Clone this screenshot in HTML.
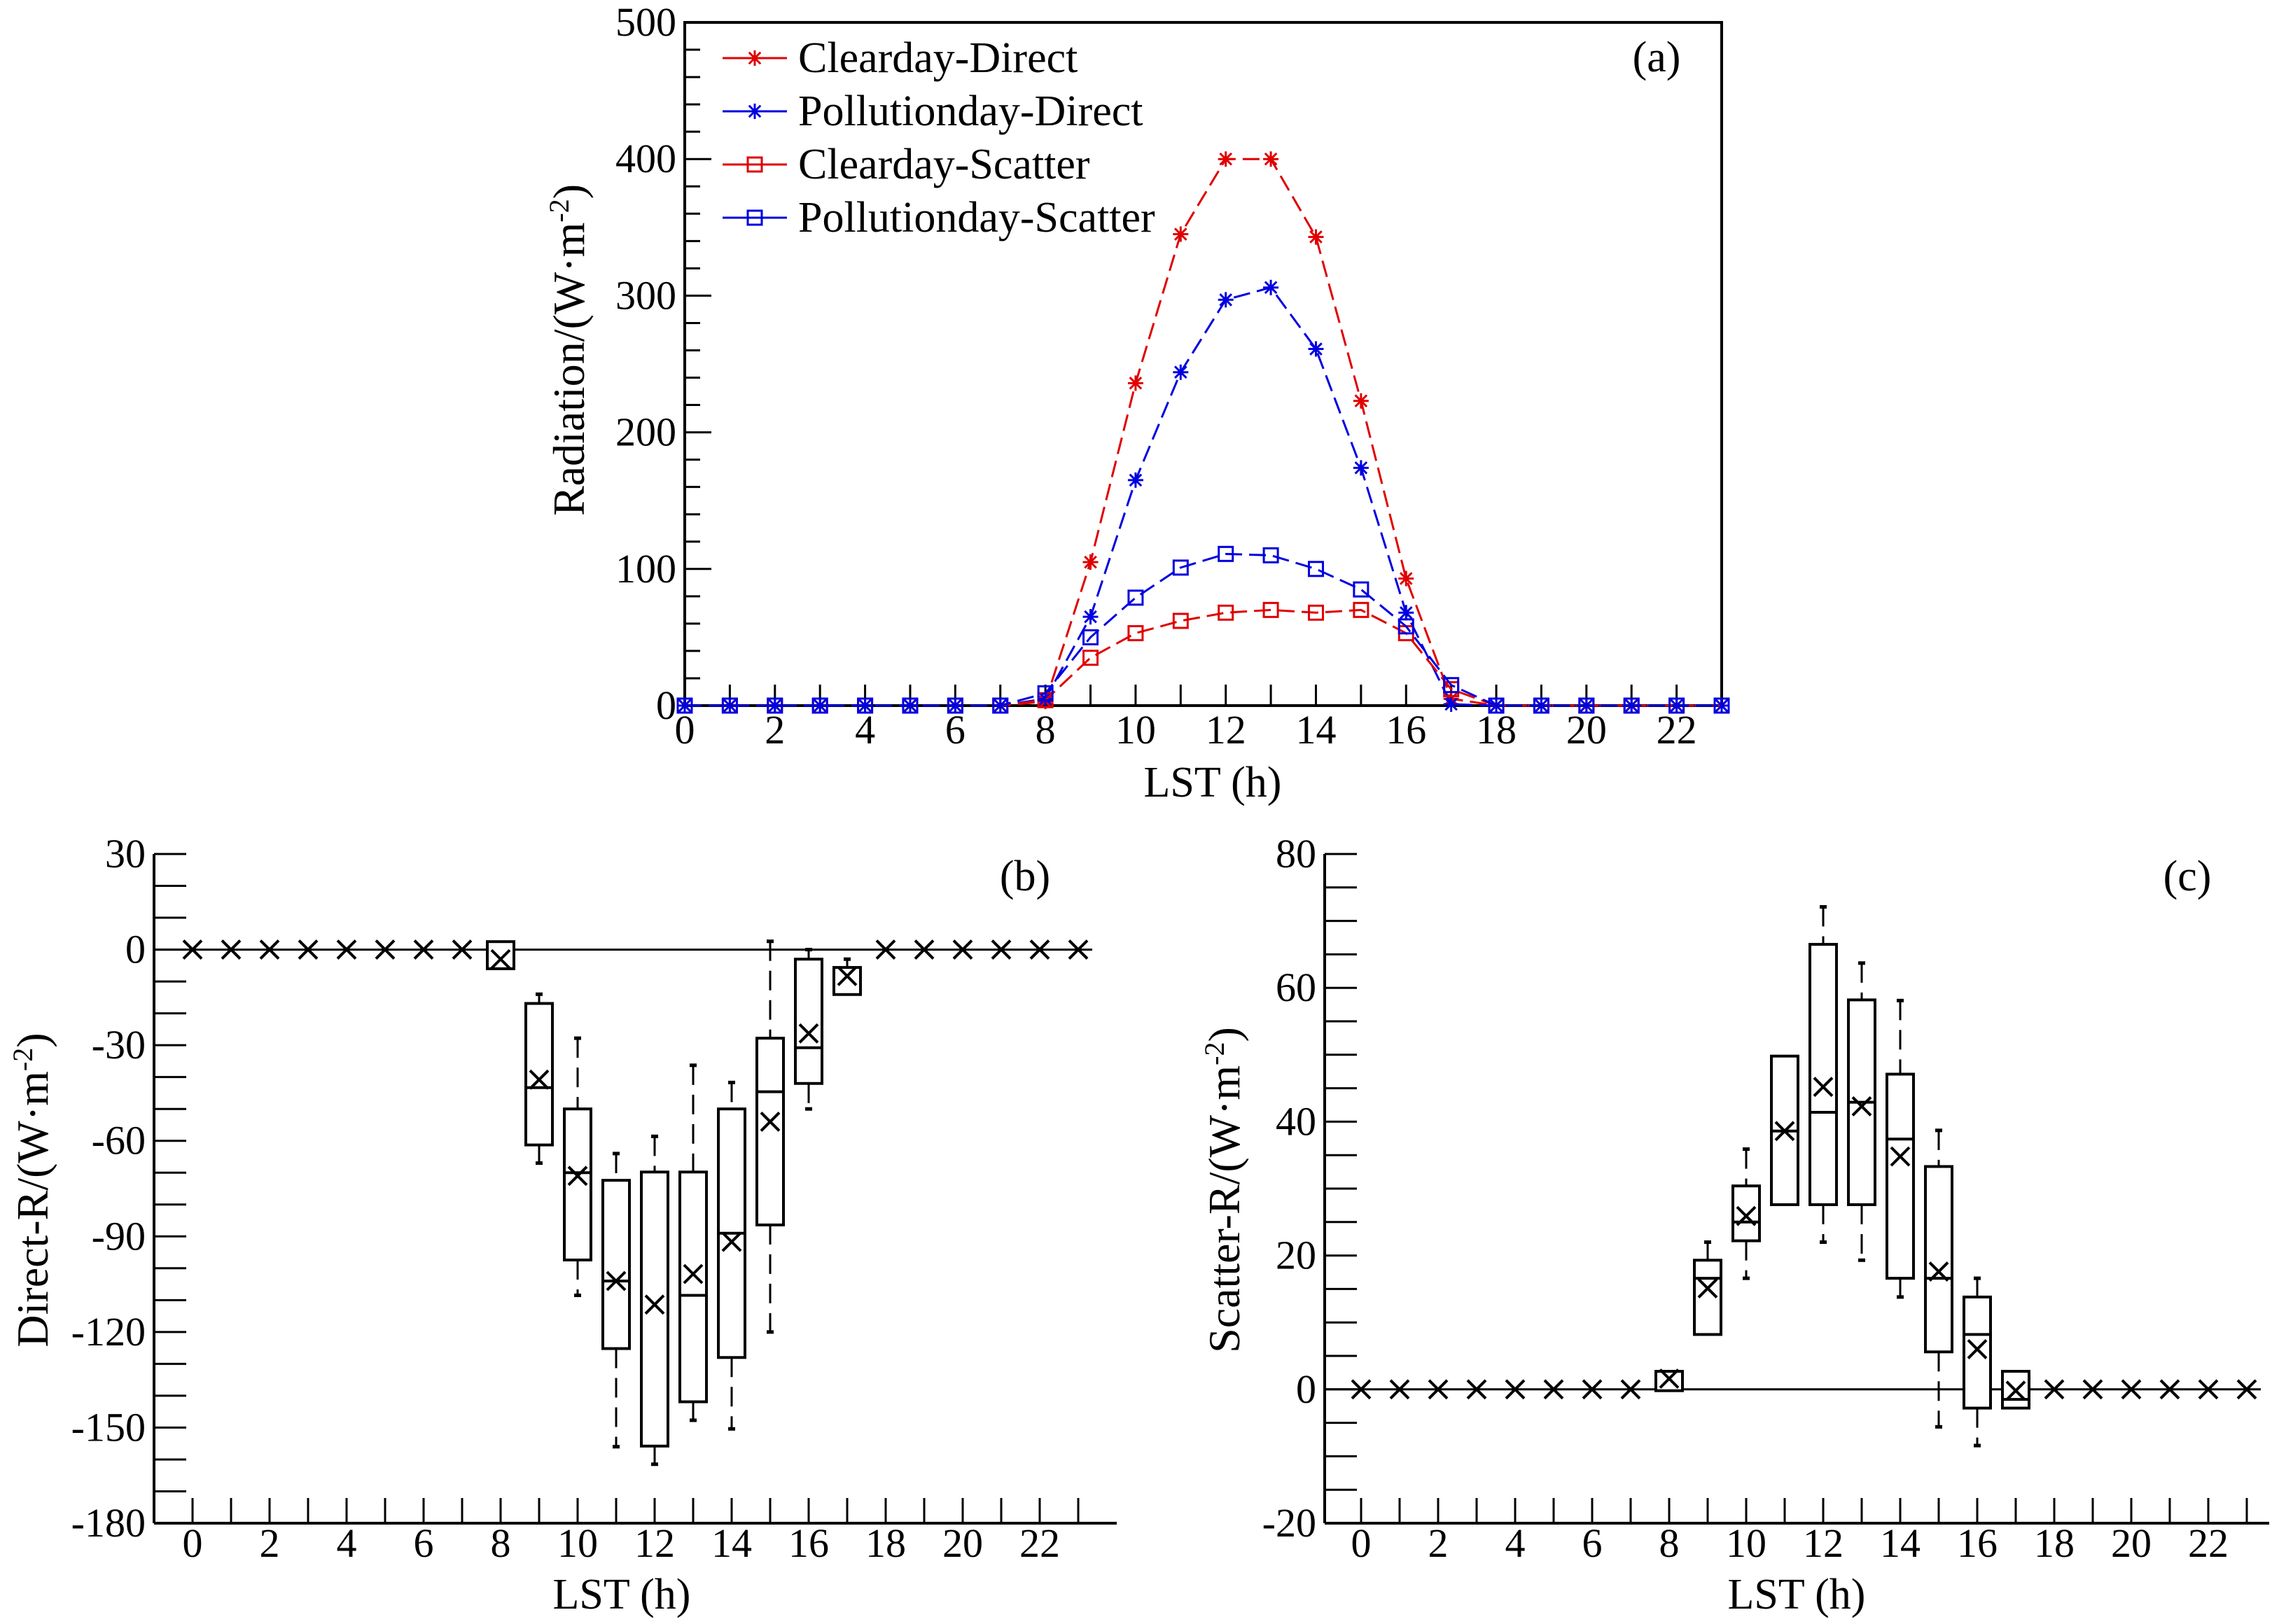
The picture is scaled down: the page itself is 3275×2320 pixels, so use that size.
<!DOCTYPE html>
<html><head><meta charset="utf-8"><style>
html,body{margin:0;padding:0;background:#fff;}
svg{display:block;font-family:"Liberation Serif","Times New Roman",serif;}
text{font-family:"Liberation Serif","Times New Roman",serif;}
</style></head><body>
<svg id="fig" width="3275" height="2320" viewBox="0 0 3275 2320" xmlns="http://www.w3.org/2000/svg" font-family="Liberation Serif, serif"></svg>
<script>
// ---------- Panel (a) data ----------
const hours = [0,1,2,3,4,5,6,7,8,9,10,11,12,13,14,15,16,17,18,19,20,21,22,23];
const clearDirect = [0,0,0,0,0,0,0,0,3,105,236,345,400,400,343,223,93,5,0,0,0,0,0,0];
const pollDirect  = [0,0,0,0,0,0,0,0,5,65,165,244,297,306,261,174,68,1,0,0,0,0,0,0];
const clearScatter= [0,0,0,0,0,0,0,0,4,35,53,62,68,70,68,70,53,12,0,0,0,0,0,0];
const pollScatter = [0,0,0,0,0,0,0,0,9,50,79,101,111,110,100,85,58,15,0,0,0,0,0,0];
const aTicks = [0,100,200,300,400,500];
const xTickLabels = [0,2,4,6,8,10,12,14,16,18,20,22];
// ---------- Panel (b) data ----------
const bHours = [8,9,10,11,12,13,14,15,16,17];
const bQ1   = [-6,-61.3,-97.4,-125.2,-155.8,-141.9,-128,-86.4,-42,-14.1];
const bQ3   = [2.5,-16.9,-50,-72.4,-69.8,-69.8,-50,-27.8,-3,-5.6];
const bMed  = [null,-43.3,-70,-104,null,-108.5,-89,-44.6,-30.8,null];
const bWLo  = [null,-67,-108.5,-156,-161.5,-147.7,-150.4,-120,-50,null];
const bWHi  = [null,-14,-27.8,-64,-58.6,-36.3,-41.7,2.6,0,-3];
const bMean = [-3,-40.8,-71,-104,-111.4,-101.8,-91.7,-54,-26.3,-8.3];
const bZeroHours = [0,1,2,3,4,5,6,7,18,19,20,21,22,23];
const bTicks = [30,0,-30,-60,-90,-120,-150,-180];
// ---------- Panel (c) data ----------
const cHours = [8,9,10,11,12,13,14,15,16,17];
const cQ1   = [-0.2,8.2,22.2,27.6,27.6,27.6,16.6,5.6,-2.8,-2.8];
const cQ3   = [2.7,19.3,30.4,49.8,66.5,58.2,47.1,33.3,13.8,2.7];
const cMed  = [null,16.6,25,38.6,41.4,42.9,37.4,16.6,8.2,-1.5];
const cWLo  = [null,null,16.6,null,22,19.3,13.8,-5.6,-8.4,null];
const cWHi  = [null,22,35.9,null,72.1,63.7,58.1,38.7,16.6,null];
const cMean = [1.6,15.1,25.9,38.6,45.2,42.3,34.8,17.6,6,-0.2];
const cZeroHours = [0,1,2,3,4,5,6,7,18,19,20,21,22,23];
const cTicks = [80,60,40,20,0,-20];

const NS="http://www.w3.org/2000/svg";
const FF='"Liberation Serif", "Times New Roman", serif';
const svg=document.getElementById('fig');
function mk(tag,attrs,parent){const e=document.createElementNS(NS,tag);for(const k in attrs)e.setAttribute(k,attrs[k]);(parent||svg).appendChild(e);return e;}
function txt(s,x,y,attrs,parent){const t=mk('text',Object.assign({x:x,y:y,'font-size':56,fill:'#000','font-family':FF},attrs),parent);t.textContent=s;return t;}

// ================= Panel (a) =================
const A={x0:978,x1:2459,y0:1008,y1:32};
const ax=h=>978+h*(2459-978)/23;
const ay=v=>1008-v*(1008-32)/500;
const ga=mk('g',{});


const frame=mk('rect',{x:A.x0,y:A.y1,width:A.x1-A.x0,height:A.y0-A.y1,fill:'none',stroke:'#000','stroke-width':4},ga);


for(let v=0;v<=500;v+=20){const major=v%100===0;mk('line',{x1:A.x0,x2:A.x0+(major?38:22),y1:ay(v),y2:ay(v),stroke:'#000','stroke-width':3},ga);}
aTicks.forEach(v=>{const t=txt(String(v),A.x0-12,ay(v)+19,{'text-anchor':'end','font-size':58},ga);});
hours.forEach(h=>mk('line',{x1:ax(h),x2:ax(h),y1:A.y0,y2:A.y0-30,stroke:'#000','stroke-width':3},ga));
xTickLabels.forEach(h=>{const t=txt(String(h),ax(h),1062,{'text-anchor':'middle','font-size':58},ga);});
let t=txt('LST (h)',1732,1138,{'text-anchor':'middle','font-size':62},ga);
t=mk('text',{x:0,y:0,'font-size':64,'font-family':FF,'text-anchor':'middle',transform:'translate(834,500) rotate(-90)'},ga);

t.innerHTML='Radiation/(W·m<tspan dy="-22" font-size="40">-2</tspan><tspan dy="22">)</tspan>';
t=txt('(a)',2366,102,{'text-anchor':'middle','font-size':62},ga);

function star(x,y,c,g){const r=11;mk('path',{d:`M${x-r} ${y}H${x+r}M${x} ${y-r}V${y+r}M${x-r*.75} ${y-r*.75}L${x+r*.75} ${y+r*.75}M${x-r*.75} ${y+r*.75}L${x+r*.75} ${y-r*.75}`,stroke:c,'stroke-width':3,fill:'none'},g);}
function sq(x,y,c,g){mk('rect',{x:x-10,y:y-10,width:20,height:20,fill:'none',stroke:c,'stroke-width':3},g);}
const series=[[clearDirect,'#e00000',star,'series-clearday-direct'],[pollDirect,'#0000e0',star,'series-pollutionday-direct'],[clearScatter,'#e00000',sq,'series-clearday-scatter'],[pollScatter,'#0000e0',sq,'series-pollutionday-scatter']];
series.forEach(([d,c,m,n])=>{
  const g=mk('g',{},ga);
  
  
  mk('polyline',{points:d.map((v,i)=>ax(hours[i])+','+ay(v)).join(' '),fill:'none',stroke:c,'stroke-width':3,'stroke-dasharray':'24 10'},g);
  d.forEach((v,i)=>m(ax(hours[i]),ay(v),c,g));
});
const legNames=['Clearday-Direct','Pollutionday-Direct','Clearday-Scatter','Pollutionday-Scatter'];
series.forEach(([d,c,m],i)=>{
  const y=83+i*76;
  const g=mk('g',{},ga);
  
  
  mk('line',{x1:1032,x2:1124,y1:y,y2:y,stroke:c,'stroke-width':3},g);
  m(1078,y,c,g);
  txt(legNames[i],1140,y+20,{'font-size':62},g);
});

// ================= Box panels =================
function boxPanel(o){
  const g=mk('g',{});
  
  
  const px=h=>o.h0+h*(o.h23-o.h0)/23;
  const py=v=>o.yb-(v-o.vmin)*(o.yb-o.yt)/(o.vmax-o.vmin);
  mk('line',{x1:o.xl,x2:o.xl,y1:o.yt,y2:o.yb,stroke:'#000','stroke-width':4},g);
  mk('line',{x1:o.xl,x2:o.xr,y1:o.yb,y2:o.yb,stroke:'#000','stroke-width':4},g);
  for(let v=o.vmin;v<=o.vmax+1e-6;v+=o.minor) mk('line',{x1:o.xl,x2:o.xl+46,y1:py(v),y2:py(v),stroke:'#000','stroke-width':3},g);
  o.ticks.forEach(v=>{const t=txt(String(v),o.xl-12,py(v)+19,{'text-anchor':'end','font-size':58},g);});
  for(let h=0;h<=23;h++) mk('line',{x1:px(h),x2:px(h),y1:o.yb,y2:o.yb-36,stroke:'#000','stroke-width':3},g);
  xTickLabels.forEach(h=>{const t=txt(String(h),px(h),2224,{'text-anchor':'middle','font-size':58},g);});
  let t=txt('LST (h)',o.lstX,2298,{'text-anchor':'middle','font-size':62},g);
  t=mk('text',{x:0,y:0,'font-size':64,'font-family':FF,'text-anchor':'middle',transform:`translate(${o.titleX},1700) rotate(-90)`},g);
  
  t.innerHTML=o.title+'/(W·m<tspan dy="-22" font-size="40">-2</tspan><tspan dy="22">)</tspan>';
  t=txt(o.label,o.labelX,1272,{'text-anchor':'middle','font-size':62},g);
  mk('line',{x1:o.xl,x2:px(o.zeroHours[o.zeroHours.length-1])+20,y1:py(0),y2:py(0),stroke:'#000','stroke-width':3},g);
  const cross=(x,y,gg)=>mk('path',{d:`M${x-13} ${y-13}L${x+13} ${y+13}M${x-13} ${y+13}L${x+13} ${y-13}`,stroke:'#000','stroke-width':4},gg);
  o.zeroHours.forEach(h=>cross(px(h),py(0),g));
  o.hrs.forEach((h,i)=>{
    const bg=mk('g',{},g);
    
    
    const x=px(h),w=38;
    if(o.wHi[i]!==null){mk('line',{x1:x,x2:x,y1:py(o.wHi[i]),y2:py(o.q3[i]),stroke:'#000','stroke-width':3,'stroke-dasharray':'28 14'},bg);mk('line',{x1:x-5,x2:x+5,y1:py(o.wHi[i]),y2:py(o.wHi[i]),stroke:'#000','stroke-width':5},bg);}
    if(o.wLo[i]!==null){mk('line',{x1:x,x2:x,y1:py(o.q1[i]),y2:py(o.wLo[i]),stroke:'#000','stroke-width':3,'stroke-dasharray':'28 14'},bg);mk('line',{x1:x-5,x2:x+5,y1:py(o.wLo[i]),y2:py(o.wLo[i]),stroke:'#000','stroke-width':5},bg);}
    mk('rect',{x:x-w/2,y:py(o.q3[i]),width:w,height:py(o.q1[i])-py(o.q3[i]),fill:'#fff',stroke:'#000','stroke-width':4},bg);
    if(o.med[i]!==null) mk('line',{x1:x-w/2,x2:x+w/2,y1:py(o.med[i]),y2:py(o.med[i]),stroke:'#000','stroke-width':4},bg);
    cross(x,py(o.mean[i]),bg);
  });
}
boxPanel({name:'panel-b',xl:220,xr:1595,yt:1220,yb:2176,h0:275,h23:1540,vmin:-180,vmax:30,minor:10,ticks:bTicks,title:'Direct-R',titleX:68,label:'(b)',labelX:1464,lstX:888,
  hrs:bHours,q1:bQ1,q3:bQ3,med:bMed,wLo:bWLo,wHi:bWHi,mean:bMean,zeroHours:bZeroHours});
boxPanel({name:'panel-c',xl:1892,xr:3241,yt:1220,yb:2176,h0:1944,h23:3209,vmin:-20,vmax:80,minor:5,ticks:cTicks,title:'Scatter-R',titleX:1770,label:'(c)',labelX:3124,lstX:2566,
  hrs:cHours,q1:cQ1,q3:cQ3,med:cMed,wLo:cWLo,wHi:cWHi,mean:cMean,zeroHours:cZeroHours});
</script>
</body></html>
